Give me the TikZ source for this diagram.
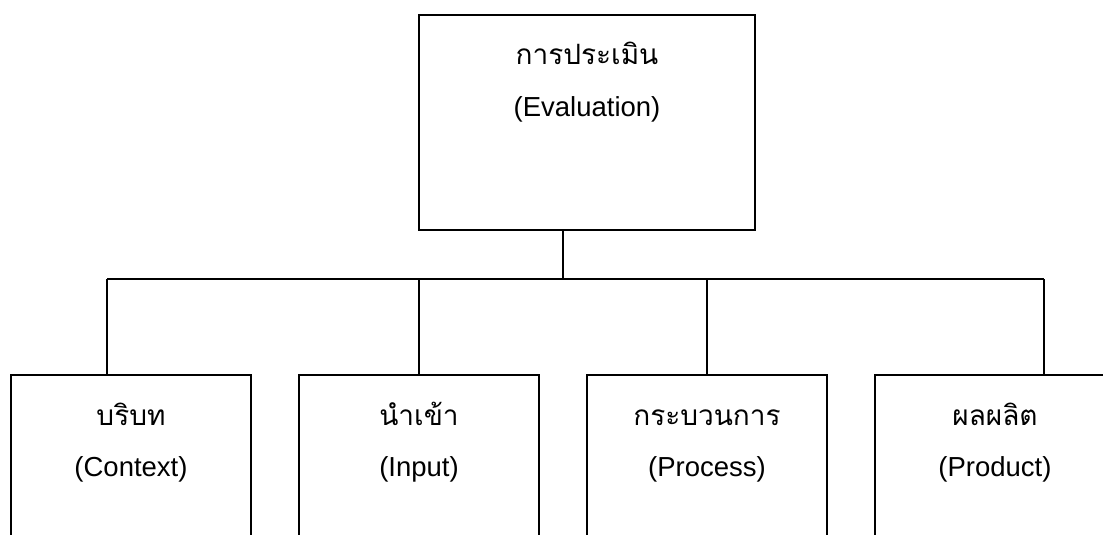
\documentclass[tikz,border=0pt]{standalone}
\usepackage{fontspec}
\setmainfont{Liberation Sans}
\newfontfamily\thaifont[Script=Thai]{Loma}
\usetikzlibrary{calc}
\begin{document}
\begin{tikzpicture}[x=1pt,y=-1pt,
  boxstyle/.style={draw=black,line width=1.5pt,rectangle,inner sep=0pt,outer sep=0pt},
  thaitext/.style={anchor=base,inner sep=0pt,font=\thaifont\fontsize{28}{32}\selectfont},
  engtext/.style={anchor=base,inner sep=0pt,font=\fontsize{27.5}{32}\selectfont},
  linkstyle/.style={draw=black,line width=1.5pt}]
\useasboundingbox (0,0) rectangle (1103,535);
\clip (0,0) rectangle (1103,535);
\fill[white] (0,0) rectangle (1103,535);
% top box
\node[boxstyle,minimum width=336pt,minimum height=215pt,anchor=north west] (top) at (419,15) {};
\node[thaitext] (topth) at ($(top.north)+(0,50)$) {การประเมิน};
\node[engtext] (topen) at ($(top.north)+(0,101)$) {(Evaluation)};
% bottom boxes
\node[boxstyle,minimum width=240pt,minimum height=300pt,anchor=north west] (b1) at (11,375) {};
\node[boxstyle,minimum width=240pt,minimum height=300pt,anchor=north west] (b2) at (299,375) {};
\node[boxstyle,minimum width=240pt,minimum height=300pt,anchor=north west] (b3) at (587,375) {};
\node[boxstyle,minimum width=240pt,minimum height=300pt,anchor=north west] (b4) at (875,375) {};
\node[thaitext] (b1th) at ($(b1.north)+(0,50)$) {บริบท};
\node[engtext] (b1en) at ($(b1.north)+(0,101)$) {(Context)};
\node[thaitext] (b2th) at ($(b2.north)+(0,50)$) {นำเข้า};
\node[engtext] (b2en) at ($(b2.north)+(0,101)$) {(Input)};
\node[thaitext] (b3th) at ($(b3.north)+(0,50)$) {กระบวนการ};
\node[engtext] (b3en) at ($(b3.north)+(0,101)$) {(Process)};
\node[thaitext] (b4th) at ($(b4.north)+(0,50)$) {ผลผลิต};
\node[engtext] (b4en) at ($(b4.north)+(0,101)$) {(Product)};
% connectors
\coordinate (j) at (563,279);
\coordinate (d1) at (107,279);
\coordinate (d2) at (419,279);
\coordinate (d3) at (707,279);
\coordinate (d4) at (1044,279);
\draw[linkstyle] (top.south -| j) -- (j);
\draw[linkstyle] (d1) -- (d4);
\draw[linkstyle] (d1) -- (d1 |- b1.north);
\draw[linkstyle] (d2) -- (d2 |- b2.north);
\draw[linkstyle] (d3) -- (d3 |- b3.north);
\draw[linkstyle] (d4) -- (d4 |- b4.north);
\end{tikzpicture}
\end{document}
